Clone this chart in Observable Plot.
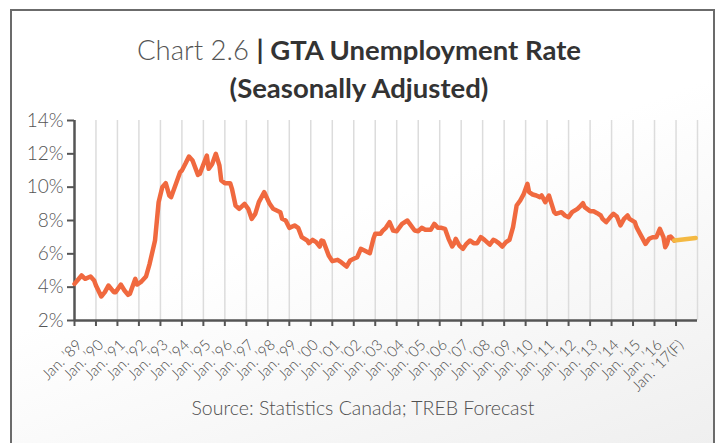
<!DOCTYPE html>
<html><head><meta charset="utf-8">
<script src="https://cdn.jsdelivr.net/npm/d3@7"></script>
<script src="https://cdn.jsdelivr.net/npm/@observablehq/plot@0.6"></script>
<style>
body{margin:0;background:#fff;font-family:Lato,"Open Sans",sans-serif;}
#wrap{position:relative;width:720px;height:443px;overflow:hidden;background:#fff;}
#frame{position:absolute;left:10px;top:9px;width:701px;height:460px;border:2px solid #6b6b6b;background:linear-gradient(160deg,#ffffff 0%,#ffffff 45%,#eeeeee 100%);}
#chart{position:absolute;left:0;top:0;}
#title{position:absolute;left:8px;width:702px;top:31px;text-align:center;font-size:27.5px;line-height:38px;color:#333;}
#title .lt{font-weight:300;color:#555;}
#title b{font-weight:700;}
#source{position:absolute;left:12px;width:702px;top:396px;text-align:center;font-size:19.5px;font-weight:300;color:#505050;}
</style></head>
<body>
<div id="wrap">
  <div id="frame"></div>
  <div id="chart"></div>
  <div id="title"><span class="lt">Chart 2.6 </span><b>| GTA Unemployment Rate</b><br><b>(Seasonally Adjusted)</b></div>
  <div id="source">Source: Statistics Canada; TREB Forecast</div>
</div>
<script>
const actualMonths = ["1989-01","1989-05","1989-07","1989-10","1989-12","1990-01","1990-04","1990-06","1990-08","1990-11","1990-12","1991-03","1991-05","1991-07","1991-08","1991-11","1991-12","1992-02","1992-05","1992-07","1992-10","1992-12","1993-02","1993-04","1993-06","1993-07","1993-10","1993-12","1994-01","1994-03","1994-05","1994-07","1994-10","1994-11","1995-03","1995-04","1995-06","1995-08","1995-10","1995-11","1996-01","1996-04","1996-05","1996-07","1996-09","1996-12","1997-02","1997-04","1997-06","1997-08","1997-11","1998-02","1998-04","1998-06","1998-08","1998-09","1998-11","1999-01","1999-04","1999-06","1999-08","1999-11","1999-12","2000-02","2000-04","2000-06","2000-07","2000-08","2000-11","2001-01","2001-04","2001-06","2001-09","2001-11","2002-01","2002-03","2002-05","2002-07","2002-10","2002-12","2003-01","2003-04","2003-05","2003-07","2003-09","2003-11","2004-01","2004-04","2004-07","2004-08","2004-11","2005-01","2005-03","2005-05","2005-08","2005-10","2005-12","2006-02","2006-04","2006-06","2006-08","2006-09","2006-10","2006-12","2007-02","2007-04","2007-06","2007-08","2007-10","2007-12","2008-02","2008-05","2008-07","2008-08","2008-10","2008-12","2009-02","2009-04","2009-06","2009-08","2009-10","2009-12","2010-02","2010-03","2010-05","2010-07","2010-09","2010-10","2010-12","2011-02","2011-05","2011-06","2011-09","2011-11","2012-01","2012-03","2012-06","2012-07","2012-09","2012-10","2013-01","2013-03","2013-05","2013-07","2013-08","2013-10","2013-12","2014-02","2014-04","2014-06","2014-08","2014-10","2014-11","2015-02","2015-03","2015-05","2015-08","2015-10","2015-12","2016-02","2016-04","2016-06","2016-07","2016-08","2016-09","2016-10","2016-12"];
const actualRates = [4.2,4.7,4.5,4.64,4.4,4.1,3.44,3.7,4.1,3.7,3.7,4.15,3.8,3.54,3.6,4.5,4.16,4.3,4.64,5.4,6.8,9.1,10.0,10.24,9.5,9.4,10.3,10.9,11.0,11.4,11.84,11.6,10.74,10.8,11.9,11.1,11.4,12.0,11.3,10.4,10.24,10.24,9.9,8.9,8.7,9.0,8.7,8.1,8.4,9.1,9.7,9.0,8.7,8.6,8.5,8.1,8.0,7.56,7.7,7.56,7.0,6.8,6.64,6.84,6.7,6.44,6.8,6.76,5.9,5.56,5.64,5.5,5.24,5.6,5.7,5.8,6.3,6.2,6.04,6.9,7.2,7.2,7.36,7.56,7.9,7.4,7.36,7.8,8.0,7.84,7.4,7.36,7.56,7.44,7.44,7.8,7.56,7.56,7.5,6.9,6.44,6.6,6.9,6.5,6.3,6.6,6.8,6.64,6.64,7.0,6.84,6.55,6.84,6.8,6.64,6.44,6.7,6.84,7.6,8.9,9.2,9.6,10.2,9.7,9.56,9.5,9.4,9.5,9.1,9.5,8.5,8.4,8.5,8.3,8.2,8.5,8.7,8.8,9.04,8.8,8.56,8.56,8.44,8.3,8.1,7.9,8.16,8.4,8.24,7.7,8.1,8.3,8.1,7.9,7.6,7.2,6.6,6.9,7.0,7.0,7.5,7.0,6.4,6.6,7.0,7.04,6.8];
const forecastMonths = ["2016-12","2017-06","2017-12"];
const forecastRates = [6.8,6.87,6.95];
const tickYears = [1989,1990,1991,1992,1993,1994,1995,1996,1997,1998,1999,2000,2001,2002,2003,2004,2005,2006,2007,2008,2009,2010,2011,2012,2013,2014,2015,2016,2017];
const tickLabels = ["Jan. ’89","Jan. ’90","Jan. ’91","Jan. ’92","Jan. ’93","Jan. ’94","Jan. ’95","Jan. ’96","Jan. ’97","Jan. ’98","Jan. ’99","Jan. ’00","Jan. ’01","Jan. ’02","Jan. ’03","Jan. ’04","Jan. ’05","Jan. ’06","Jan. ’07","Jan. ’08","Jan. ’09","Jan. ’10","Jan. ’11","Jan. ’12","Jan. ’13","Jan. ’14","Jan. ’15","Jan. ’16","Jan. ’17(F)"];
const gridYears = [1990,1991,1992,1993,1994,1995,1996,1997,1998,1999,2000,2001,2002,2003,2004,2005,2006,2007,2008,2009,2010,2011,2012,2013,2014,2015,2016,2017,2018];
const yTicks = [2,4,6,8,10,12,14];

const parseM = s => { const [y,m] = s.split("-").map(Number); return new Date(Date.UTC(y, m-1, 1)); };
const jan = y => new Date(Date.UTC(y,0,1));
const actual = actualMonths.map((m,i) => ({date: parseM(m), rate: actualRates[i]}));
const forecast = forecastMonths.map((m,i) => ({date: parseM(m), rate: forecastRates[i]}));
const tickDates = tickYears.map(jan);
const gridDates = gridYears.map(jan);

const chart = Plot.plot({
  width: 720, height: 443,
  marginLeft: 74, marginRight: 23, marginTop: 120, marginBottom: 123,
  x: {type: "utc", domain: [jan(1989), jan(2018)]},
  y: {domain: [2, 14]},
  style: {background: "transparent", fontFamily: "Lato, 'Open Sans', sans-serif"},
  marks: [
    Plot.ruleX(gridDates, {stroke: "#dcdcdc", strokeWidth: 1.5}),
    Plot.ruleY([2], {stroke: "#555", strokeWidth: 2.5}),
    Plot.ruleX([jan(1989)], {stroke: "#555", strokeWidth: 2.5}),
    Plot.axisY({ticks: yTicks, tickFormat: d => d + "%", label: null, tickSize: 7, tickPadding: 4, stroke: "#555", strokeWidth: 2, fill: "#555", fontSize: 19, fontWeight: 300}),
    Plot.axisX({ticks: tickDates, tickSize: 6, tickFormat: () => "", label: null, stroke: "#555", strokeWidth: 2}),
    Plot.text(tickDates, {x: d => d, y: 2, text: (d, i) => tickLabels[i], rotate: -45, textAnchor: "end", dx: 5, dy: 22, fontSize: 15, fontWeight: 300, fill: "#4a4a4a"}),
    Plot.line(actual, {x: "date", y: "rate", stroke: "#F0693F", strokeWidth: 4.5, strokeLinejoin: "round", strokeLinecap: "round"}),
    Plot.line(forecast, {x: "date", y: "rate", stroke: "#F4B942", strokeWidth: 4.5, strokeLinecap: "round"})
  ]
});
document.getElementById("chart").appendChild(chart);
</script>
</body></html>
